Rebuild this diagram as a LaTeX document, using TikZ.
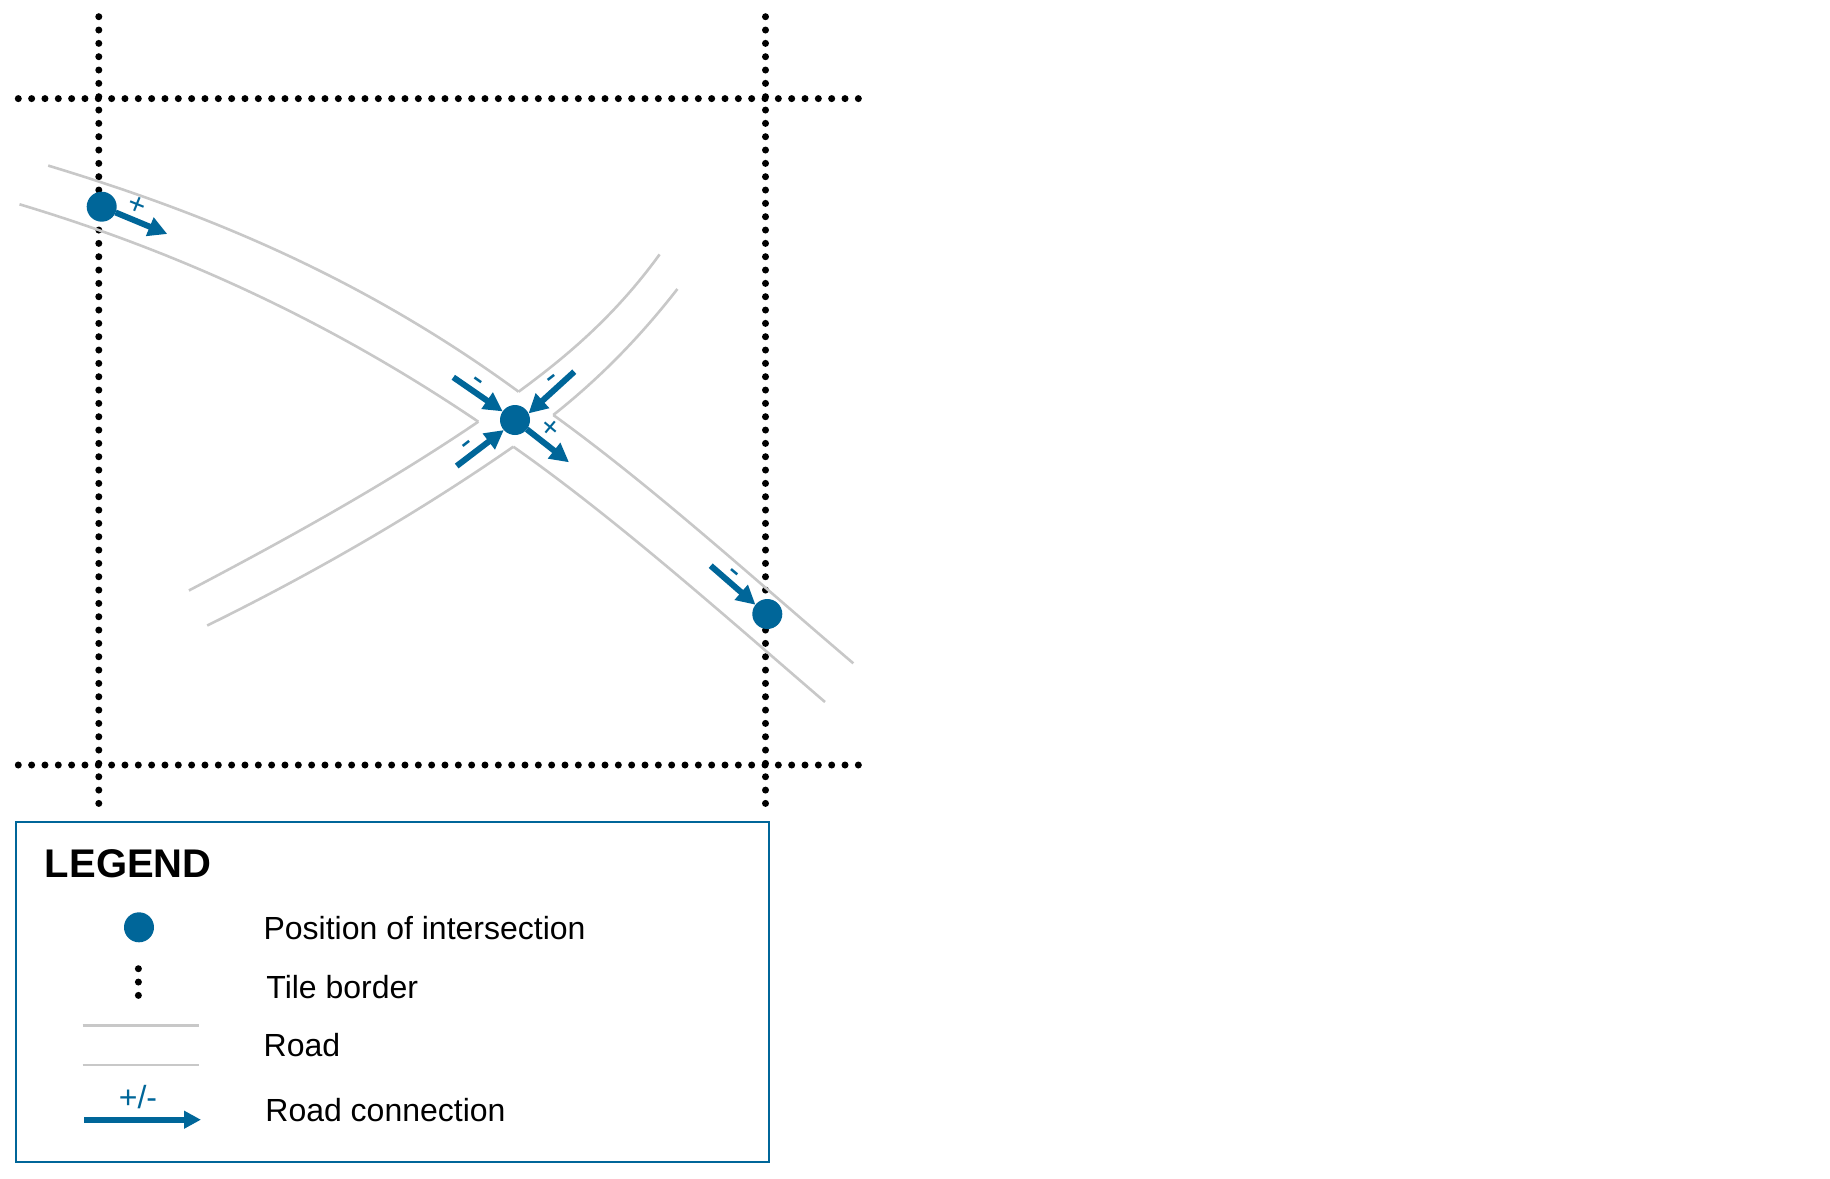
\documentclass[tikz,border=0pt]{standalone}
\usepackage{fontspec}
\setmainfont{Liberation Sans}
\usetikzlibrary{arrows.meta}
\definecolor{rcblue}{RGB}{0,102,153}
\definecolor{roadgrey}{RGB}{200,200,200}
\newcommand{\minussign}{\makebox[0pt]{\raisebox{-.278em}[0pt][0pt]{-}}}
\newcommand{\plusmark}{\makebox[0pt]{\raisebox{-.352em}[0pt][0pt]{+}}}
\tikzset{
  tileline/.style={black,line width=3.5pt,line cap=round,dash pattern=on 0pt off 6.667pt},
  roadline/.style={roadgrey,line width=1.3pt},
  link/.style={rcblue,line width=3pt,-{Triangle[length=9.5pt,width=9.5pt]}},
  legendlink/.style={rcblue,line width=2.9pt,-{Triangle[length=8.5pt,width=8.5pt]}},
  inter/.style={circle,fill=rcblue,inner sep=0pt,outer sep=0pt,minimum size=15pt},
  sign/.style={rcblue,inner sep=0pt,font=\fontsize{17pt}{17pt}\selectfont},
  plussign/.style={rcblue,inner sep=0pt,font=\fontsize{15pt}{15pt}\selectfont},
  legendtext/.style={anchor=base west,inner sep=0pt,font=\fontsize{16pt}{18pt}\selectfont},
}
\begin{document}
\begin{tikzpicture}[x=0.5pt,y=-0.5pt]
\useasboundingbox (0,0) rectangle (1830,1178);
\fill[white] (0,0) rectangle (1830,1178);

% tile borders
\coordinate (t1a) at (18.3,98.6);  \coordinate (t1b) at (858.5,98.6);
\coordinate (t2a) at (18.3,765); \coordinate (t2b) at (858.5,765);
\coordinate (t3a) at (98.8,16.7);  \coordinate (t3b) at (98.8,803.5);
\coordinate (t4a) at (765.5,16.7);   \coordinate (t4b) at (765.5,803.5);
\draw[tileline] (t1a) -- (t1b);
\draw[tileline] (t2a) -- (t2b);
\draw[tileline] (t3a) -- (t3b);
\draw[tileline] (t4a) -- (t4b);

% roads
\coordinate (nwT) at (48.2,165.6);  \coordinate (nwL) at (19.5,204.3);
\coordinate (cN)  at (518.6,391.7); \coordinate (cW)  at (478.3,421.7);
\coordinate (cE)  at (553.3,415);   \coordinate (cS)  at (513.3,446.7);
\coordinate (neT) at (659.6,254.4); \coordinate (neL) at (677.4,289);
\coordinate (swT) at (188.9,590.5); \coordinate (swL) at (207.2,625.5);
\coordinate (seT) at (853.3,663.3); \coordinate (seL) at (825,702);
\draw[roadline] (nwT) .. controls (205,213) and (362,277) .. (cN);
\draw[roadline] (nwL) .. controls (172,250) and (325,318) .. (cW);
\draw[roadline] (cN) .. controls (566,357) and (615,316) .. (neT);
\draw[roadline] (cE) .. controls (600,378) and (640,337) .. (neL);
\draw[roadline] (cW) .. controls (385,485) and (285,540) .. (swT);
\draw[roadline] (cS) .. controls (415,515) and (310,575) .. (swL);
\draw[roadline] (cE) .. controls (653,487) and (753,578) .. (seT);
\draw[roadline] (cS) .. controls (615,518) and (725,616) .. (seL);

% intersections
\node[inter] (i1) at (101.7,206.7) {};
\node[inter] (i2) at (515,420) {};
\node[inter] (i3) at (767.3,614) {};

% connections
\coordinate (a1) at (167.3,234);
\coordinate (a2) at (453.3,377.3);
\coordinate (a3) at (574.3,371.7);
\coordinate (a4) at (456.7,466);
\coordinate (a5) at (569,462.3);
\coordinate (a6) at (710.7,565.7);
\draw[link] (i1) -- (a1);
\draw[link] (a2) -- (i2.145);
\draw[link] (a3) -- (i2.26);
\draw[link] (a4) -- (i2.222);
\draw[link] (i2) -- (a5);
\draw[link] (a6) -- (i3.142);

% signs
\node[plussign,rotate=-22] (s1) at (138,204) {\plusmark};
\node[sign,rotate=-35] (s2) at (478.5,379.5) {\minussign};
\node[sign,rotate=38] (s3) at (551,377.5) {\minussign};
\node[sign,rotate=38] (s4) at (466.5,443.5) {\minussign};
\node[plussign,rotate=-40] (s5) at (551,426.7) {\plusmark};
\node[sign,rotate=-40] (s6) at (735,571.5) {\minussign};

% legend
\node[draw=rcblue,line width=1pt,inner sep=0pt,outer sep=0pt,anchor=north west,minimum width=376.85pt,minimum height=170pt] (box) at (15.5,821.7) {};
\node[anchor=base west,inner sep=0pt,font=\fontsize{20pt}{22pt}\selectfont\bfseries] (lt) at (44.5,877.7) {LEGEND};

\node[inter] (li) at (139,927.3) {};
\node[legendtext] (l1) at (263.2,939) {Position of intersection};

\coordinate (ld1) at (138.4,968.7); \coordinate (ld2) at (138.4,995.5);
\draw[tileline] (ld1) -- (ld2);
\node[legendtext] (l2) at (266,998.7) {Tile border};

\coordinate (lr1) at (82.7,1025.3); \coordinate (lr2) at (199.3,1025.3);
\coordinate (lr3) at (82.7,1065);   \coordinate (lr4) at (199.3,1065);
\draw[roadline] (lr1) -- (lr2);
\draw[roadline] (lr3) -- (lr4);
\node[legendtext] (l3) at (263.3,1056.3) {Road};

\coordinate (la1) at (84.3,1119.7); \coordinate (la2) at (201,1119.7);
\draw[legendlink] (la1) -- (la2);
\node[rcblue,inner sep=0pt,font=\fontsize{16pt}{16pt}\selectfont] (ls) at (138,1097) {+/-};
\node[legendtext] (l4) at (265,1121) {Road connection};
\end{tikzpicture}
\end{document}
